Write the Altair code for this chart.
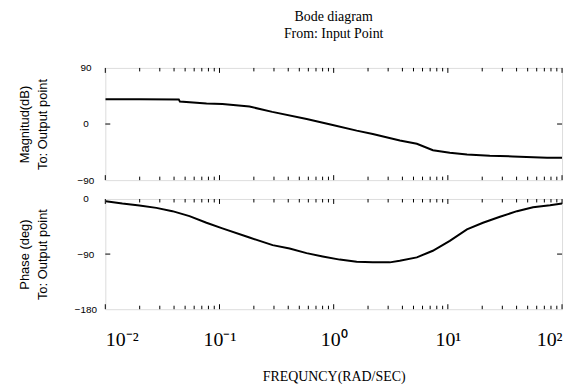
import altair as alt
import pandas as pd

# Magnitude curve
mag_freq = [0.01, 0.02, 0.044, 0.045, 0.077, 0.106, 0.183, 0.29, 0.58, 0.98,
            1.59, 2.2, 3.8, 5.35, 7.4, 10.4, 14.7, 23.3, 37, 74, 100]
mag_db = [39.7, 39.7, 39.5, 36, 33, 32, 28, 19.5, 8, -1.6,
          -10.6, -16, -26.5, -31.7, -42, -46, -49, -51, -52, -54, -54]

# Phase curve
phase_freq = [0.0101, 0.0141, 0.0199, 0.028, 0.0387, 0.0546, 0.0769, 0.106, 0.183,
              0.292, 0.411, 0.579, 0.801, 1.13, 1.59, 2.2, 3.1, 3.79, 5.35, 7.38,
              10.4, 14.7, 20.3, 28.6, 40.3, 55.7, 78.5, 100]
phase_deg = [-3.7, -7.5, -10.7, -14.5, -19.9, -28, -38.8, -47.9, -63,
             -75.4, -80.9, -88.4, -93.8, -99, -102.4, -103.5, -103.5, -101, -95.4, -84.6,
             -68.4, -49.6, -38.8, -29, -19.9, -13.4, -10.2, -7.5]

# Axis ticks
decades = [0.01, 0.1, 1, 10, 100]
minor_mult = [2, 3, 4, 5, 6, 7, 8, 9]
mag_ticks = [-90, 0, 90]
phase_ticks = [-180, -90, 0]
mag_inner = [0]
phase_inner = [-90]
x_labels = ["10⁻²", "10⁻¹", "10⁰", "10¹", "10²"]

W = 460
H_TOP = 113
H_BOT = 111

major_df = pd.DataFrame({"freq": decades})
minor_df = pd.DataFrame({"freq": [d * m for d in decades[:-1] for m in minor_mult]})

label_expr = ("datum.value < 0.05 ? '%s' : datum.value < 0.5 ? '%s' : "
              "datum.value < 5 ? '%s' : datum.value < 50 ? '%s' : '%s'") % tuple(x_labels)


def x_enc(show):
    if show:
        axis = alt.Axis(values=decades, labelExpr=label_expr, tickSize=0, domain=False,
                        grid=False, labelFlush=True, labelFont="Liberation Serif",
                        labelFontSize=20, labelPadding=21, labelColor="black",
                        title="FREQUNCY(RAD/SEC)", titleFont="Liberation Serif",
                        titleFontSize=14, titleFontWeight="normal", titleColor="black",
                        titleY=61, titleBaseline="top")
    else:
        axis = None
    return alt.X("freq:Q", scale=alt.Scale(type="log", domain=[0.01, 100]), axis=axis)


def y_enc(field, domain, ticks, title, h):
    return alt.Y(f"{field}:Q", scale=alt.Scale(domain=domain, nice=False, zero=False),
                 axis=alt.Axis(values=ticks, tickSize=0, domain=False, grid=False,
                               labelFont="Liberation Sans", labelFontSize=10,
                               labelColor="black", labelAlign="center", labelPadding=20,
                               title=title, titleFont="Liberation Sans", titleFontSize=13,
                               titleFontWeight="normal", titleColor="black",
                               titleLineHeight=18, titleX=-74, titleY=h / 2,
                               titleBaseline="bottom", titleAlign="center"))


def panel(freqs, vals, field, domain, ticks, inner, title, h, show_x):
    df = pd.DataFrame({"freq": freqs, field: vals})
    X = x_enc(show_x)
    Y = y_enc(field, domain, ticks, title, h)
    line = alt.Chart(df).mark_line(color="black", strokeWidth=2, clip=True).encode(x=X, y=Y)
    layers = [line]
    for d, ln in ((major_df, 5), (minor_df, 3.5)):
        layers.append(alt.Chart(d).mark_rule(color="black", strokeWidth=1).encode(
            x=X, y=alt.value(0), y2=alt.value(ln)))
        layers.append(alt.Chart(d).mark_rule(color="black", strokeWidth=1).encode(
            x=X, y=alt.value(h), y2=alt.value(h - ln)))
    idf = pd.DataFrame({field: inner})
    layers.append(alt.Chart(idf).mark_rule(color="black", strokeWidth=1).encode(
        y=Y, x=alt.value(0), x2=alt.value(5)))
    layers.append(alt.Chart(idf).mark_rule(color="black", strokeWidth=1).encode(
        y=Y, x=alt.value(W), x2=alt.value(W - 5)))
    return alt.layer(*layers).properties(width=W, height=h)


top = panel(mag_freq, mag_db, "mag", [-90, 90], mag_ticks, mag_inner,
            ["Magnitud(dB)", "To: Output point"], H_TOP, False).properties(
    title=alt.TitleParams(text=["Bode diagram", "From: Input Point"],
                          font="Liberation Serif", fontSize=14, fontWeight="normal",
                          color="black", anchor="middle", lineHeight=17,
                          baseline="alphabetic", offset=11))

bottom = panel(phase_freq, phase_deg, "phase", [-180, 0], phase_ticks, phase_inner,
               ["Phase (deg)", "To: Output point"], H_BOT, True)

chart = alt.vconcat(top, bottom, spacing=7).properties(
    padding={"left": 10, "top": 0, "right": 5, "bottom": 0}
).configure_view(stroke="black", strokeWidth=2).configure(background="white")

chart.save("out.html", embed_options={"renderer": "svg", "actions": False})
